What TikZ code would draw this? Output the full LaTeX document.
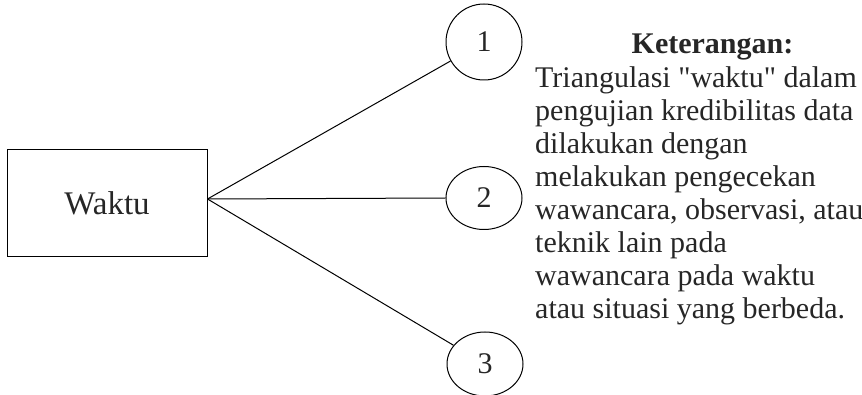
\documentclass[tikz,border=0pt]{standalone}
\usepackage{fontspec}
\setmainfont{Liberation Serif}[Ligatures=TeXOff]
\usetikzlibrary{shapes.geometric}

\begin{document}
\begin{tikzpicture}[x=1pt,y=-1pt]
\tikzset{every node/.style={text=black!85},
  kotak/.style={draw,line width=1pt,minimum width=200pt,minimum height=107pt,font=\fontsize{33}{36}\selectfont},
  bulat/.style={ellipse,draw,line width=1pt,minimum width=76pt,inner sep=0pt,font=\fontsize{30}{33}\selectfont}}
\useasboundingbox (0,0) rectangle (862,395);
% Nodes (box and the three times)
\node[kotak] (waktu) at (107,203.5) {Waktu};
\node[bulat,minimum height=76pt] (n1) at (484,42) {1};
\node[bulat,minimum height=63pt] (n2) at (484,198) {2};
\node[bulat,minimum height=64pt] (n3) at (485,364) {3};

% Edges
\draw[line width=1pt] ([yshift=4.5pt]waktu.east) -- (n1);
\draw[line width=1pt] ([yshift=4.5pt]waktu.east) -- (n2.west);
\draw[line width=1pt] ([yshift=4.5pt]waktu.east) -- (n3);

% Keterangan
\node[font=\bfseries\fontsize{30}{33}\selectfont,anchor=base] (ket) at (712.5,54) {Keterangan:};
\node[font=\fontsize{30}{33}\selectfont,anchor=north west,inner sep=0pt,align=left] (isi) at (535,66.5)
  {Triangulasi "waktu" dalam\\
   pengujian kredibilitas data\\
   dilakukan dengan\\
   melakukan pengecekan\\
   wawancara, observasi, atau\\
   teknik lain pada\\
   wawancara pada waktu\\
   atau situasi yang berbeda.};

\end{tikzpicture}
\end{document}
